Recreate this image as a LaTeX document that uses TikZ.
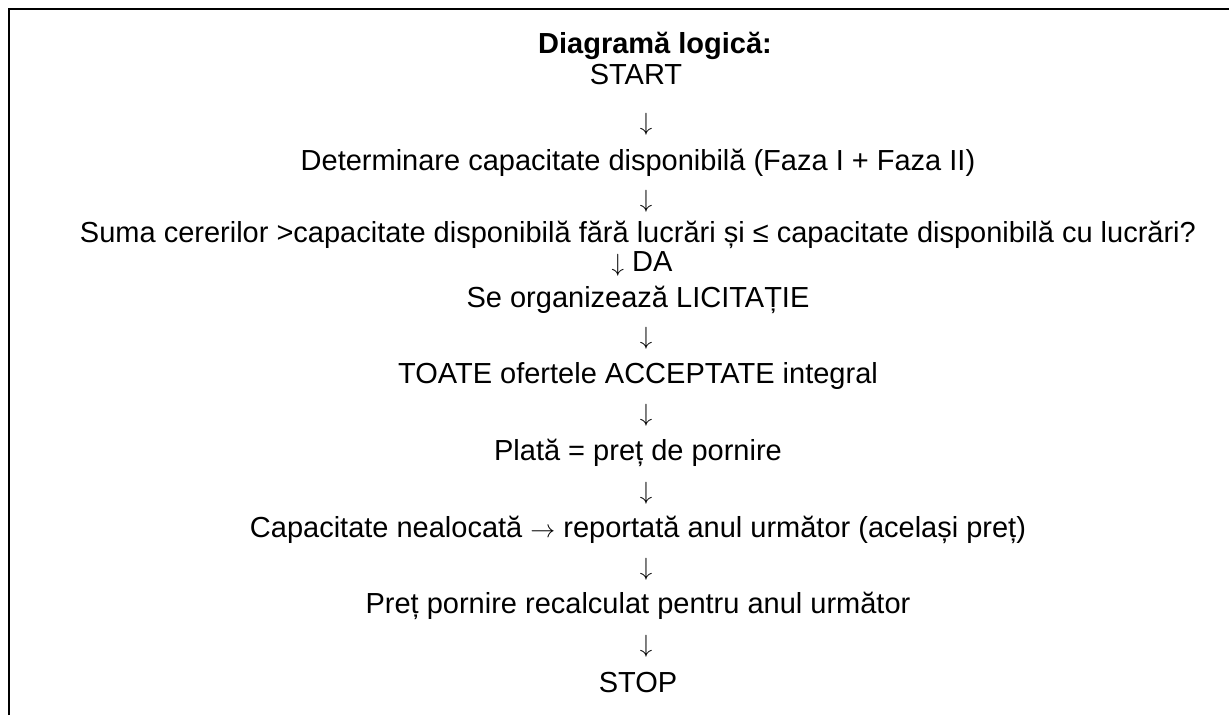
\documentclass[tikz,border=0pt]{standalone}
\usepackage{fontspec}
\setmainfont{Liberation Sans}
\begin{document}
\begin{tikzpicture}[x=1pt,y=-1pt,
    font=\fontsize{29}{33}\selectfont,
    txt/.style={anchor=base,inner sep=0pt}]

\useasboundingbox (0,0) rectangle (1229,715);

% frame (cut off on the right and at the bottom)
\draw[line width=2pt] (9,715) -- (9,9) -- (1229,9);

% Title
\node[txt,font=\fontsize{29}{33}\selectfont\bfseries] (titlu) at (655,53) {Diagramă logică:};
\node[txt] (start) at (636,84) {START};

% Steps
\node[txt] (s1) at (646,130) {$\downarrow$};
\node[txt] (capdisp) at (638,170) {Determinare capacitate disponibilă (Faza I + Faza II)};
\node[txt] (s2) at (646,207) {$\downarrow$};
\node[txt] (suma) at (638,242) {Suma cererilor >capacitate disponibilă fără lucrări și ≤ capacitate disponibilă cu lucrări?};
\node[txt] (da) at (642,271) {$\downarrow$ DA};
\node[txt] (licit) at (638,307) {Se organizează LICITAȚIE};
\node[txt] (s3) at (646,344) {$\downarrow$};
\node[txt] (oferte) at (638,383) {TOATE ofertele ACCEPTATE integral};
\node[txt] (s4) at (646,421) {$\downarrow$};
\node[txt] (plata) at (638,460) {Plată = preț de pornire};
\node[txt] (s5) at (646,499) {$\downarrow$};
\node[txt] (nealoc) at (638,537) {Capacitate nealocată $\rightarrow$ reportată anul următor (același preț)};
\node[txt] (s6) at (646,575) {$\downarrow$};
\node[txt] (recalc) at (638,613) {Preț pornire recalculat pentru anul următor};
\node[txt] (s7) at (646,652) {$\downarrow$};
\node[txt] (stop) at (638,692) {STOP};

\end{tikzpicture}
\end{document}
